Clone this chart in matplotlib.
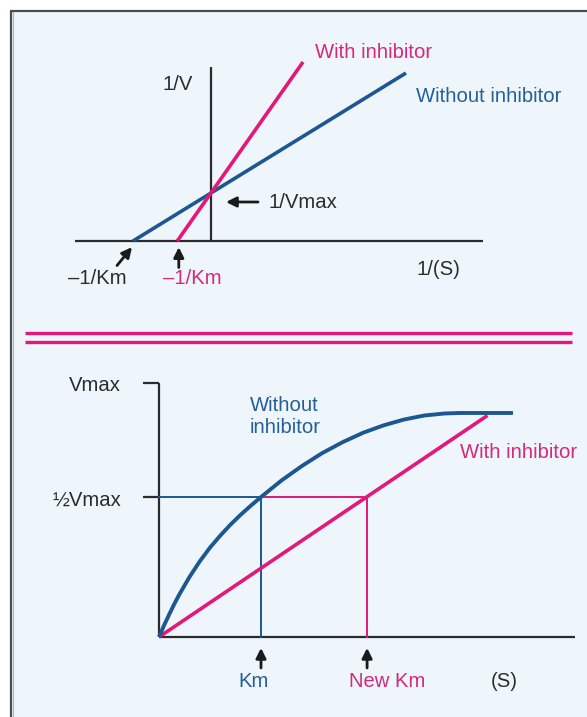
import matplotlib.pyplot as plt
from matplotlib.patches import Rectangle
from matplotlib.lines import Line2D

plt.rcParams['font.family'] = ['Liberation Sans', 'DejaVu Sans']

BLUE = '#1d5792'
PINK = '#e2187a'
BLUE_TXT = '#255f99'
PINK_TXT = '#d6287c'
INK = '#2b2b2b'
BG = '#eef6fb'
FS = 14.6

# Lineweaver-Burk (double reciprocal) lines
inv_vmax = 1.0
neg_inv_km = -1.0
neg_inv_km_inh = -0.433
lb_blue_x = [neg_inv_km, 2.5]
lb_blue_y = [0.0, 3.5]
lb_pink_x = [neg_inv_km_inh, 1.18]
lb_pink_y = [0.0, 3.73]

# Michaelis-Menten curves
vmax_level = 1.0
half_vmax = 0.551
km = 1.0
new_km = 2.04
mm_s = [0, 0.05, 0.1, 0.15, 0.2, 0.3, 0.4, 0.5, 0.6, 0.7, 0.8, 0.9, 1.0,
        1.2, 1.4, 1.6, 1.8, 2.0, 2.2, 2.4, 2.6, 2.8, 2.95, 3.2, 3.47]
mm_v = [0, 0.046, 0.089, 0.130, 0.168, 0.237, 0.298, 0.352, 0.399, 0.442, 0.481, 0.517, 0.551,
        0.616, 0.673, 0.724, 0.767, 0.804, 0.833, 0.856, 0.872, 0.880, 0.882, 0.882, 0.882]
inh_s = [0, 3.22]
inh_v = [0, 0.872]

W, H = 587, 717
fig = plt.figure(figsize=(W / 100, H / 100), dpi=100, facecolor='white')

# light panel with a grey edge on the top and left
fig.add_artist(Rectangle((10 / W, 0), 1, 1 - 10 / H, transform=fig.transFigure,
                         facecolor=BG, edgecolor='none', zorder=-5))
fig.add_artist(Line2D([10.5 / W, 10.5 / W], [0, 1 - 10.5 / H], transform=fig.transFigure,
                      color='#4d4d4d', lw=1.6, zorder=-4, solid_capstyle='butt'))
fig.add_artist(Line2D([12.5 / W, 12.5 / W], [0, 1 - 12 / H], transform=fig.transFigure,
                      color='#b5b5b5', lw=0.8, zorder=-4))
fig.add_artist(Line2D([10 / W, 1], [1 - 10.5 / H, 1 - 10.5 / H], transform=fig.transFigure,
                      color='#4d4d4d', lw=1.6, zorder=-4, solid_capstyle='butt'))

# ---- top: 1/V against 1/(S) ----
ax1 = fig.add_axes([0, 416 / H, 1, 301 / H])
ax1.set_xlim(-211 / 78, 376 / 78)
ax1.set_ylim(-60 / 48, 241 / 48)
ax1.axis('off')

ax1.plot([-1.744, 3.487], [0, 0], color=INK, lw=1.6, solid_capstyle='butt')
ax1.plot([0, 0], [0, 3.63], color=INK, lw=1.6, solid_capstyle='butt')
ax1.plot(lb_blue_x, lb_blue_y, color=BLUE, lw=2.6, solid_capstyle='butt')
ax1.plot(lb_pink_x, lb_pink_y, color=PINK, lw=2.6, solid_capstyle='butt')

ax1.text(1.333, 3.93, 'With inhibitor', color=PINK_TXT, fontsize=FS, va='center')
ax1.text(2.63, 3.02, 'Without inhibitor', color=BLUE_TXT, fontsize=FS, va='center')
ax1.text(-0.231, 3.27, '1/V', color=INK, fontsize=FS, ha='right', va='center')
ax1.text(0.731, 0.8125, '1/Vmax', color=INK, fontsize=FS, va='center')
ax1.text(-1.462, -0.787, '\u20131/Km', color=INK, fontsize=FS, ha='center', va='center')
ax1.text(-0.244, -0.787, '\u20131/Km', color=PINK_TXT, fontsize=FS, ha='center', va='center')
ax1.text(2.91, -0.6, '1/(S)', color=INK, fontsize=FS, ha='center', va='center')

arrow = dict(arrowstyle='-|>', color='#1a1a1a', lw=2, mutation_scale=15, shrinkA=0, shrinkB=0)
ax1.annotate('', xy=(0.192, inv_vmax * 0.8125), xytext=(0.603, 0.8125), arrowprops=arrow)
ax1.annotate('', xy=(-1.013, -0.128), xytext=(-1.205, -0.511), arrowprops=arrow)
ax1.annotate('', xy=(neg_inv_km_inh + 0.02, -0.128), xytext=(neg_inv_km_inh + 0.02, -0.553),
             arrowprops=arrow)

# ---- bottom: V against (S) ----
ax2 = fig.add_axes([0, 0, 1, 416 / H])
ax2.set_xlim(-159 / 102, 428 / 102)
ax2.set_ylim(-80 / 254, 336 / 254)
ax2.axis('off')

# double divider between the two plots
for yy in (1.197, 1.161):
    ax2.plot([-1.314, 4.049], [yy, yy], color=PINK, lw=2.4, solid_capstyle='butt', clip_on=False)

ax2.plot([0, 4.08], [0, 0], color=INK, lw=1.6, solid_capstyle='butt')
ax2.plot([0, 0], [0, vmax_level], color=INK, lw=1.6, solid_capstyle='butt')
ax2.plot([-0.157, 0], [vmax_level, vmax_level], color=INK, lw=1.6, solid_capstyle='butt')
ax2.plot([-0.157, 0], [half_vmax, half_vmax], color=INK, lw=1.6, solid_capstyle='butt')

ax2.plot([0, km], [half_vmax, half_vmax], color=BLUE, lw=1.4)
ax2.plot([km, new_km], [half_vmax, half_vmax], color=PINK, lw=1.4)
ax2.plot([km, km], [0, half_vmax], color=BLUE, lw=1.4)
ax2.plot([new_km, new_km], [0, half_vmax], color=PINK, lw=1.4)

ax2.plot(inh_s, inh_v, color=PINK, lw=2.6, solid_capstyle='butt')
ax2.plot(mm_s, mm_v, color=BLUE, lw=2.8, solid_capstyle='butt', solid_joinstyle='round')

ax2.text(-0.373, 0.99, 'Vmax', color=INK, fontsize=FS, ha='right', va='center')
ax2.text(-0.373, 0.539, '\u00bdVmax', color=INK, fontsize=FS, ha='right', va='center')
ax2.text(0.892, 0.913, 'Without', color=BLUE_TXT, fontsize=FS, va='center')
ax2.text(0.892, 0.823, 'inhibitor', color=BLUE_TXT, fontsize=FS, va='center')
ax2.text(2.951, 0.728, 'With inhibitor', color=PINK_TXT, fontsize=FS, va='center')
ax2.text(0.93, -0.177, 'Km', color=BLUE_TXT, fontsize=FS, ha='center', va='center')
ax2.text(2.235, -0.177, 'New Km', color=PINK_TXT, fontsize=FS, ha='center', va='center')
ax2.text(3.38, -0.177, '(S)', color=INK, fontsize=FS, ha='center', va='center')

for xk in (km, new_km):
    ax2.annotate('', xy=(xk, -0.043), xytext=(xk, -0.122), arrowprops=arrow)

fig.savefig('out.png', dpi=100, facecolor='white')
